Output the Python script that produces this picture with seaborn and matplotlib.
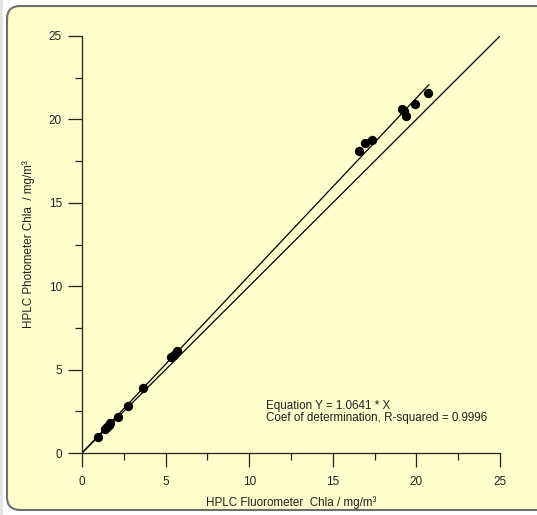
import numpy as np
import pandas as pd
import matplotlib.pyplot as plt
from matplotlib.patches import FancyBboxPatch, Rectangle
import seaborn as sns

# values
fluoro = [0.96, 1.4, 1.5, 1.6, 1.7, 2.15, 2.75, 3.65, 5.3, 5.5, 5.7,
          16.55, 16.9, 17.35, 19.15, 19.25, 19.4, 19.9, 20.7]
photo = [0.96, 1.45, 1.55, 1.7, 1.8, 2.15, 2.8, 3.9, 5.75, 5.9, 6.1,
         18.1, 18.6, 18.75, 20.65, 20.5, 20.2, 20.9, 21.6]
slope = 1.0641
r2 = 0.9996
ticks = [0, 5, 10, 15, 20, 25]

df = pd.DataFrame({"x": fluoro, "y": photo})
fit = pd.DataFrame({"x": [0, max(fluoro) + 0.05]})
fit["y"] = slope * fit["x"]
one = pd.DataFrame({"x": [0, 25], "y": [0, 25]})

sns.set_style("ticks")
plt.rcParams["font.family"] = ["Liberation Sans", "DejaVu Sans"]

fig = plt.figure(figsize=(5.37, 5.15), dpi=100)
fig.patch.set_facecolor("white")
# light strip on the far left, then the rounded yellow panel
fig.patches.append(Rectangle((0, 0), 3 / 537, 1, transform=fig.transFigure,
                             facecolor="#e4e4e4", edgecolor="none", zorder=-6))
panel = FancyBboxPatch((7 / 537, 5 / 515), 545 / 537, 504 / 515,
                       boxstyle="round,pad=0,rounding_size=0.025",
                       transform=fig.transFigure, facecolor="#FFFDCC",
                       edgecolor="#6f6f6f", linewidth=1.5, zorder=-5)
fig.patches.append(panel)

ax = fig.add_axes([82 / 537, 1 - 453 / 515, 418 / 537, 417 / 515])
ax.set_facecolor("none")

sns.lineplot(data=one, x="x", y="y", ax=ax, color="black", linewidth=0.9)
sns.lineplot(data=fit, x="x", y="y", ax=ax, color="black", linewidth=0.9)
sns.scatterplot(data=df, x="x", y="y", ax=ax, color="black", s=45,
                edgecolor="black", linewidth=0, zorder=5, clip_on=False)

ax.set_xlim(0, 25)
ax.set_ylim(0, 25)
ax.set_xticks(ticks)
ax.set_yticks(ticks)
ax.set_xticks(np.arange(2.5, 25, 5), minor=True)
ax.set_yticks(np.arange(2.5, 25, 5), minor=True)
ax.tick_params(which="major", length=10, width=0.9, color="#222222",
               labelsize=8.5, labelcolor="#222222")
ax.tick_params(axis="x", which="major", pad=6.5)
ax.tick_params(axis="y", which="major", pad=4.5)
ax.tick_params(which="minor", length=5, width=0.9, color="#222222")
for s in ["top", "right"]:
    ax.spines[s].set_visible(False)
for s in ["left", "bottom"]:
    ax.spines[s].set_color("#222222")
    ax.spines[s].set_linewidth(0.9)

ax.set_xlabel("HPLC Fluorometer  Chla / mg/m³", fontsize=8.4, color="#222222",
              labelpad=6)
ax.set_ylabel("HPLC Photometer Chla  / mg/m³", fontsize=8.4, color="#222222",
              labelpad=9.5)

ax.text(11.0, 2.46, f"Equation Y = {slope} * X\n"
        f"Coef of determination, R-squared = {r2}",
        fontsize=8.4, color="#222222", va="center", linespacing=1.05)

fig.savefig("out.png", dpi=100)
